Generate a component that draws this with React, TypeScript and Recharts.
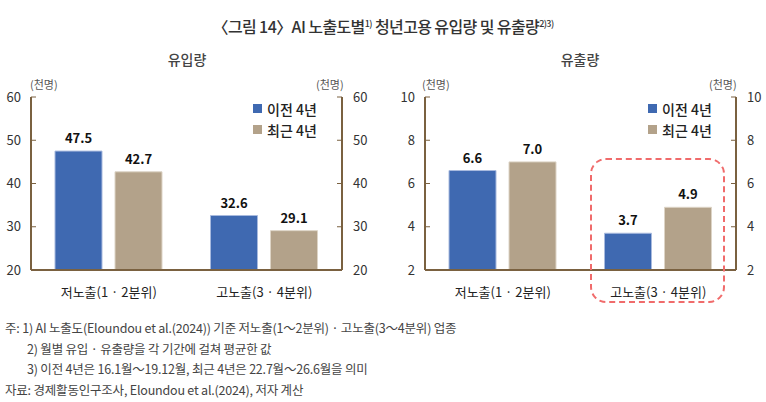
import React from 'react';
import { Bar, BarChart, LabelList, XAxis, YAxis } from 'recharts';

const categories = ['저노출(1 · 2분위)', '고노출(3 · 4분위)'];
const inflowPrev = [47.5, 32.6];
const inflowRecent = [42.7, 29.1];
const outflowPrev = [6.6, 3.7];
const outflowRecent = [7.0, 4.9];
const inflowTicks = [20, 30, 40, 50, 60];
const outflowTicks = [2, 4, 6, 8, 10];
const seriesNames = ['이전 4년', '최근 4년'];

const FONT = '"Noto Sans CJK KR", "Noto Sans", sans-serif';
const AXIS = '#7a6140';
const BLUE = '#3f69b1';
const TAN = '#b3a28a';
const TEXT = '#333';

const footnotes = [
  '주: 1) AI 노출도(Eloundou et al.(2024)) 기준 저노출(1～2분위) · 고노출(3～4분위) 업종',
  '2) 월별 유입 · 유출량을 각 기간에 걸쳐 평균한 값',
  '3) 이전 4년은 16.1월～19.12월, 최근 4년은 22.7월～26.6월을 의미',
  '자료: 경제활동인구조사, Eloundou et al.(2024), 저자 계산',
];

function buildRows(prev: number[], recent: number[]) {
  return categories.map((c, i) => ({ name: c, prev: prev[i], recent: recent[i] }));
}

const tickStyle = { fontSize: 13, fill: TEXT, fontFamily: FONT };
const labelStyle = { fontSize: 13, fontWeight: 600, fill: '#111', fontFamily: FONT };

function LegendBox({ left }: { left: number }) {
  return (
    <div style={{ position: 'absolute', left, top: 98, fontFamily: FONT, fontSize: 14, fontWeight: 500, color: '#222' }}>
      {seriesNames.map((n, i) => (
        <div key={n} style={{ display: 'flex', alignItems: 'center', height: 21 }}>
          <span style={{ width: 9, height: 9, background: i === 0 ? BLUE : TAN, marginRight: 5, display: 'inline-block' }} />
          {n}
        </div>
      ))}
    </div>
  );
}

function Panel({
  data,
  domain,
  ticks,
}: {
  data: { name: string; prev: number; recent: number }[];
  domain: [number, number];
  ticks: number[];
}) {
  return (
    <BarChart
      width={383}
      height={300}
      data={data}
      margin={{ top: 97, right: 0, bottom: 0, left: 0 }}
      barSize={47}
      barGap={13}
    >
      <XAxis
        dataKey="name"
        axisLine={{ stroke: AXIS, strokeWidth: 2 }}
        tickLine={false}
        tick={{ ...tickStyle, fill: '#222' }}
        tickMargin={12}
        height={30}
        interval={0}
      />
      <YAxis
        yAxisId="l"
        orientation="left"
        domain={domain}
        ticks={ticks}
        width={31}
        axisLine={{ stroke: AXIS, strokeWidth: 2 }}
        tickLine={{ stroke: AXIS }}
        tickSize={-5}
        tickMargin={15}
        tick={tickStyle}
        allowDataOverflow
      />
      <YAxis
        yAxisId="r"
        orientation="right"
        domain={domain}
        ticks={ticks}
        width={41}
        axisLine={{ stroke: AXIS, strokeWidth: 2 }}
        tickLine={{ stroke: AXIS }}
        tickSize={-5}
        tickMargin={16}
        tick={tickStyle}
        allowDataOverflow
      />
      <Bar yAxisId="l" dataKey="prev" name={seriesNames[0]} fill={BLUE} stroke="#a8bade" strokeWidth={1} isAnimationActive={false}>
        <LabelList dataKey="prev" position="top" offset={8} formatter={(v: number) => v.toFixed(1)} style={labelStyle} />
      </Bar>
      <Bar yAxisId="l" dataKey="recent" name={seriesNames[1]} fill={TAN} stroke="#ddd4c6" strokeWidth={1} isAnimationActive={false}>
        <LabelList dataKey="recent" position="top" offset={8} formatter={(v: number) => v.toFixed(1)} style={labelStyle} />
      </Bar>
    </BarChart>
  );
}

export default function App() {
  const small = { position: 'absolute' as const, top: 76, fontSize: 11, color: '#555', fontFamily: FONT };
  return (
    <div style={{ position: 'absolute', left: 0, top: 0, width: 766, height: 402, background: '#fff', fontFamily: FONT, overflow: 'hidden' }}>
      <div style={{ position: 'absolute', top: 14, left: 0, width: 766, textAlign: 'center', fontSize: 16, fontWeight: 500, color: TEXT, letterSpacing: -0.6 }}>
        〈그림 14〉AI 노출도별<sup style={{ fontSize: 9 }}>1)</sup> 청년고용 유입량 및 유출량<sup style={{ fontSize: 9 }}>2)3)</sup>
      </div>
      <div style={{ position: 'absolute', top: 49, left: 107, width: 160, textAlign: 'center', fontSize: 14, fontWeight: 500, color: '#444' }}>유입량</div>
      <div style={{ position: 'absolute', top: 49, left: 500, width: 160, textAlign: 'center', fontSize: 14, fontWeight: 500, color: '#444' }}>유출량</div>
      <div style={{ ...small, left: 30 }}>(천명)</div>
      <div style={{ ...small, left: 316 }}>(천명)</div>
      <div style={{ ...small, left: 422 }}>(천명)</div>
      <div style={{ ...small, left: 709 }}>(천명)</div>

      <div style={{ position: 'absolute', left: 0, top: 0 }}>
        <Panel data={buildRows(inflowPrev, inflowRecent)} domain={[20, 60]} ticks={inflowTicks} />
      </div>
      <div style={{ position: 'absolute', left: 394, top: 0 }}>
        <Panel data={buildRows(outflowPrev, outflowRecent)} domain={[2, 10]} ticks={outflowTicks} />
      </div>
      <LegendBox left={253} />
      <LegendBox left={648} />

      <div
        style={{
          position: 'absolute',
          left: 590,
          top: 158,
          width: 135,
          height: 145,
          border: '2.5px dashed #f06b6b',
          borderRadius: 16,
          boxSizing: 'border-box',
        }}
      />

      <div style={{ position: 'absolute', left: 5, top: 318, fontSize: 12.5, color: '#444', lineHeight: '20.5px', letterSpacing: -0.2 }}>
        {footnotes.map((f, i) => (
          <div key={i} style={{ paddingLeft: i === 1 || i === 2 ? 22 : 0 }}>{f}</div>
        ))}
      </div>
    </div>
  );
}
